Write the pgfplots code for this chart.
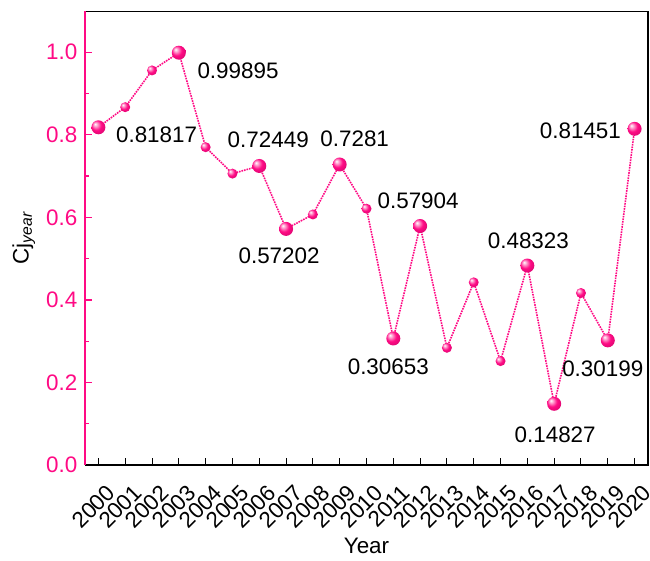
\documentclass[border=0pt]{standalone}
\usepackage{fontspec}
\setmainfont{Liberation Sans}
\usepackage{pgfplots}
\pgfplotsset{compat=1.18}
\definecolor{pinkc}{HTML}{FF0A84}
\pgfdeclareradialshading{pinkball}{\pgfpoint{-12bp}{12bp}}{%
  color(0bp)=(white);
  color(8bp)=(pinkc!45!white);
  color(18bp)=(pinkc);
  color(30bp)=(pinkc!88!black);
  color(50bp)=(pinkc!75!black)}
\pgfdeclareplotmark{pball}{%
  \pgfpathcircle{\pgfpointorigin}{\pgfplotmarksize}%
  \pgfshadepath{pinkball}{0}%
  \pgfusepath{}}
\begin{document}
\fontsize{22.5}{27}\selectfont
\begin{tikzpicture}
\useasboundingbox (-85bp,-96bp) rectangle (565bp,465bp);
\begin{axis}[
  at={(0,0)}, anchor=south west,
  scale only axis,
  width=563bp, height=454bp,
  xmin=1999.5, xmax=2020.5,
  ymin=0, ymax=1.1,
  xtick={2000,2001,...,2020},
  ytick={0,0.2,...,1.0},
  minor x tick num=1,
  minor y tick num=1,
  xtick pos=bottom, ytick pos=left,
  tick align=inside,
  major tick length=7bp, minor tick length=4bp,
  x tick label style={rotate=45, anchor=north east, inner sep=0pt, xshift=-7.8bp, yshift=-17.7bp, /pgf/number format/1000 sep={}},
  y tick label style={pinkc, /pgf/number format/.cd, fixed, fixed zerofill, precision=1},
  y tick style={pinkc, line width=1.2pt},
  x tick style={black, line width=1pt},
  /pgf/number format/assume math mode=true,
  tick label style={font=\fontsize{22.5}{27}\selectfont},
  label style={font=\fontsize{22.5}{27}\selectfont},
  xlabel={Year},
  ylabel={Cj\textsubscript{\textit{year}}},
  xlabel style={yshift=-1bp},
  ylabel style={yshift=-4bp},
  axis line style={line width=0.8pt},
  clip=false,
]
\addplot[pinkc, densely dotted, line width=1.6pt] coordinates {
(2000,0.81817) (2001,0.867) (2002,0.956) (2003,0.99895) (2004,0.770)
(2005,0.706) (2006,0.72449) (2007,0.57202) (2008,0.607) (2009,0.7281)
(2010,0.621) (2011,0.30653) (2012,0.57904) (2013,0.284) (2014,0.4425)
(2015,0.2517) (2016,0.48323) (2017,0.14827) (2018,0.4167) (2019,0.30199)
(2020,0.81451)};
\addplot[only marks, mark=pball, mark size=5bp] coordinates {
(2001,0.867) (2002,0.956) (2004,0.770) (2005,0.706) (2008,0.607)
(2010,0.621) (2013,0.284) (2014,0.4425) (2015,0.2517) (2018,0.4167)};
\addplot[only marks, mark=pball, mark size=7bp] coordinates {
(2000,0.81817) (2003,0.99895) (2006,0.72449) (2007,0.57202) (2009,0.7281)
(2011,0.30653) (2012,0.57904) (2016,0.48323) (2017,0.14827) (2019,0.30199)
(2020,0.81451)};
\node[anchor=west, xshift=10bp, yshift=-7bp] at (axis cs:2000,0.81817) {0.81817};
\node[anchor=west, xshift=11bp, yshift=-18bp] at (axis cs:2003,0.99895) {0.99895};
\node[anchor=south, xshift=9bp, yshift=11bp] at (axis cs:2006,0.72449) {0.72449};
\node[anchor=south, xshift=15bp, yshift=10bp] at (axis cs:2009,0.7281) {0.7281};
\node[anchor=north, xshift=-7bp, yshift=-11bp] at (axis cs:2007,0.57202) {0.57202};
\node[anchor=south, xshift=-2bp, yshift=10bp] at (axis cs:2012,0.57904) {0.57904};
\node[anchor=north, xshift=-5bp, yshift=-13bp] at (axis cs:2011,0.30653) {0.30653};
\node[anchor=south, xshift=1bp, yshift=9bp] at (axis cs:2016,0.48323) {0.48323};
\node[anchor=north, xshift=1bp, yshift=-15bp] at (axis cs:2017,0.14827) {0.14827};
\node[anchor=north, xshift=-5bp, yshift=-13bp] at (axis cs:2019,0.30199) {0.30199};
\node[anchor=east, xshift=-6bp, yshift=-2bp] at (axis cs:2020,0.81451) {0.81451};
\end{axis}
\draw[black, line width=1.4pt] (current axis.south west) -- (current axis.south east);
\draw[black, line width=2pt] (current axis.south east) -- (current axis.north east);
\draw[pinkc, line width=1.5pt] (current axis.south west) -- (current axis.north west);
\end{tikzpicture}
\end{document}
